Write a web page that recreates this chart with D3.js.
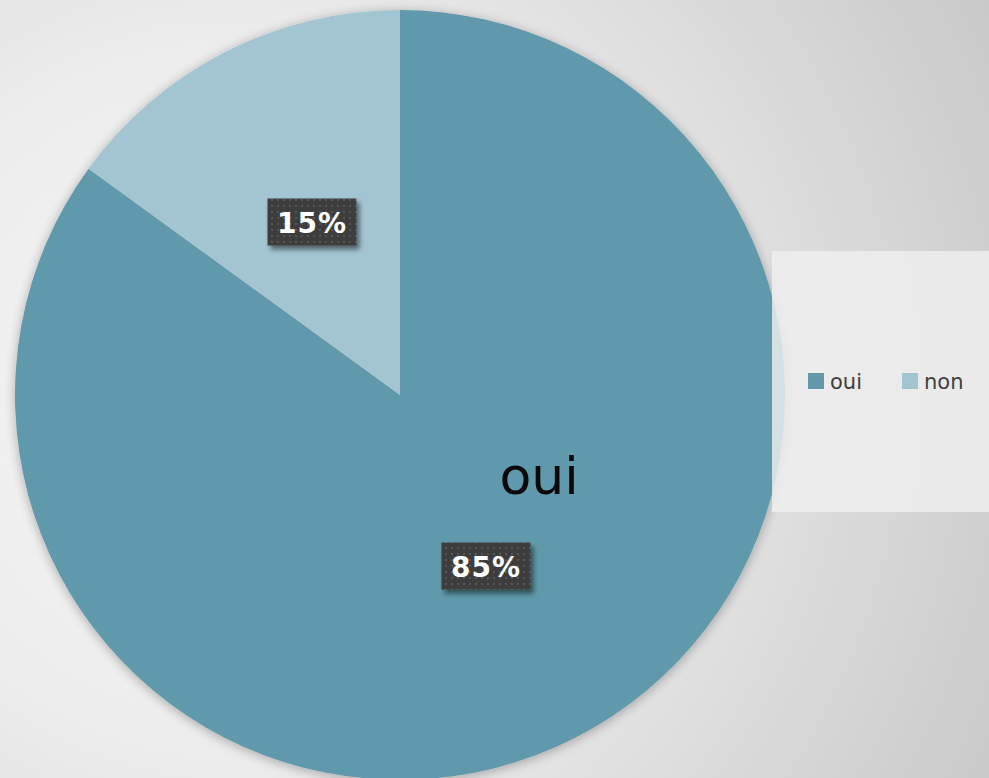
<!DOCTYPE html>
<html><head><meta charset="utf-8">
<script src="https://cdn.jsdelivr.net/npm/d3@7"></script>
<style>html,body{margin:0;padding:0;overflow:hidden;}svg{display:block;}</style>
</head><body>
<script>
const categories = ["oui", "non"];
const values = [85, 15];
const labels = ["85%", "15%"];
const colors = ["#6199AB", "#A2C5D1"];

const W = 989, H = 778;
const svg = d3.select("body").append("svg").attr("width", W).attr("height", H);
const defs = svg.append("defs");
const bg = defs.append("radialGradient").attr("id", "bg")
  .attr("gradientUnits", "userSpaceOnUse").attr("cx", 230).attr("cy", 400).attr("r", 900);
bg.append("stop").attr("offset", "0%").attr("stop-color", "#f8f8f8");
bg.append("stop").attr("offset", "40%").attr("stop-color", "#ececec");
bg.append("stop").attr("offset", "100%").attr("stop-color", "#c6c6c6");
svg.append("rect").attr("width", W).attr("height", H).attr("fill", "url(#bg)");

const sh = defs.append("filter").attr("id", "sh").attr("x", "-20%").attr("y", "-20%").attr("width", "140%").attr("height", "140%");
sh.append("feGaussianBlur").attr("in", "SourceAlpha").attr("stdDeviation", 6);
sh.append("feOffset").attr("dx", 0).attr("dy", 2).attr("result", "b");
sh.append("feComponentTransfer").append("feFuncA").attr("type", "linear").attr("slope", 0.3);
const m = sh.append("feMerge"); m.append("feMergeNode"); m.append("feMergeNode").attr("in", "SourceGraphic");

const sh2 = defs.append("filter").attr("id", "sh2").attr("x", "-20%").attr("y", "-20%").attr("width", "150%").attr("height", "160%");
sh2.append("feGaussianBlur").attr("in", "SourceAlpha").attr("stdDeviation", 2.5);
sh2.append("feOffset").attr("dx", 3).attr("dy", 4).attr("result", "b");
sh2.append("feComponentTransfer").append("feFuncA").attr("type", "linear").attr("slope", 0.5);
const m2 = sh2.append("feMerge"); m2.append("feMergeNode"); m2.append("feMergeNode").attr("in", "SourceGraphic");

const pat = defs.append("pattern").attr("id", "dots").attr("patternUnits", "userSpaceOnUse")
  .attr("width", 6).attr("height", 6);
pat.append("rect").attr("width", 6).attr("height", 6).attr("fill", "#3e3e3e");
pat.append("rect").attr("x", 1).attr("y", 1).attr("width", 2).attr("height", 2).attr("fill", "#575757");

const cx = 400, cy = 395, R = 385;
const pie = d3.pie().sort(null).value(d => d)
  .startAngle(0).endAngle(2 * Math.PI);
const arcs = pie(values);
const arc = d3.arc().innerRadius(0).outerRadius(R);
const g = svg.append("g").attr("transform", `translate(${cx},${cy})`);
g.append("g").attr("filter", "url(#sh)").selectAll("path").data(arcs).join("path")
  .attr("d", arc).attr("fill", (d, i) => colors[i]);

// Legend box
svg.append("rect").attr("x", 772).attr("y", 251).attr("width", 217).attr("height", 261)
  .attr("fill", "#efefef").attr("fill-opacity", 0.82);
const legX = [808, 902];
const leg = svg.append("g");
categories.forEach((c, i) => {
  leg.append("rect").attr("x", legX[i]).attr("y", 373).attr("width", 16).attr("height", 16).attr("fill", colors[i]);
  leg.append("text").attr("x", legX[i] + 22).attr("y", 389).attr("font-family", "DejaVu Sans, sans-serif")
    .attr("font-size", 21).attr("fill", "#404040").text(c);
});

// Data labels
const labPos = [[486, 566], [312, 222]];
arcs.forEach((d, i) => {
  const [x, y] = labPos[i];
  const lg = svg.append("g").attr("filter", "url(#sh2)");
  lg.append("rect").attr("x", x - 44.5).attr("y", y - 23.5).attr("width", 89).attr("height", 47).attr("fill", "url(#dots)");
  svg.append("text").attr("x", x).attr("y", y + 11).attr("text-anchor", "middle")
    .attr("font-family", "DejaVu Sans, sans-serif").attr("font-weight", "bold").attr("font-size", 28)
    .attr("letter-spacing", 1).attr("fill", "#ffffff").text(labels[i]);
});

// Category label inside pie
svg.append("text").attr("x", 539).attr("y", 494).attr("text-anchor", "middle")
  .attr("font-family", "DejaVu Sans, sans-serif").attr("font-size", 52).attr("fill", "#0a0a0a").text(categories[0]);
</script>
</body></html>
